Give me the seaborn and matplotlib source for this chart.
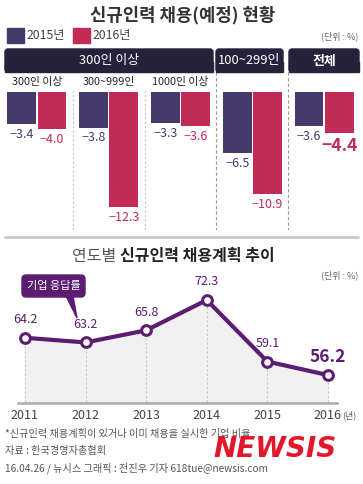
import matplotlib
matplotlib.use('Agg')
import matplotlib.pyplot as plt
from matplotlib.patches import Rectangle, FancyBboxPatch, Polygon
import pandas as pd
import seaborn as sns

# data
groups = ['300인 이상', '300~999인', '1000인 이상', '100~299인', '전체']
hire_2015 = [-3.4, -3.8, -3.3, -6.5, -3.6]
hire_2016 = [-4.0, -12.3, -3.6, -10.9, -4.4]
header_labels = ['300인 이상', '100~299인', '전체']
years = [2011, 2012, 2013, 2014, 2015, 2016]
plan_rate = [64.2, 63.2, 65.8, 72.3, 59.1, 56.2]

PURPLE = '#463a6c'
CRIMSON = '#c22b56'
NAVY = '#27223b'
LINE = '#5c1d70'

sns.set_style('white')
plt.rcParams['font.family'] = ['Noto Sans CJK KR', 'DejaVu Sans']

W, H = 363, 484
fig = plt.figure(figsize=(W / 100, H / 100), dpi=100)


def box(l, t, r, b):
    return [l / W, 1 - b / H, (r - l) / W, (b - t) / H]


# ---- bar chart ----
ax = fig.add_axes(box(1, 72, 360, 230))
df = pd.DataFrame({'group': groups * 2,
                   'year': ['2015년'] * 5 + ['2016년'] * 5,
                   'value': hire_2015 + hire_2016})
sns.barplot(data=df, x='group', y='value', hue='year', order=groups,
            hue_order=['2015년', '2016년'],
            palette={'2015년': PURPLE, '2016년': CRIMSON},
            width=0.84, gap=0.05, saturation=1, linewidth=0,
            legend=False, ax=ax)
ax.set_xlim(-0.5, 4.5)
ax.set_ylim(-14.76, 2.14)
ax.axis('off')

for cont, col in zip(ax.containers, [PURPLE, CRIMSON]):
    for bar in cont:
        v = bar.get_y() + bar.get_height()
        big = abs(v + 4.4) < 1e-6 and col == CRIMSON
        ax.annotate(f'{v:.1f}'.replace('-', '\u2212'),
                    (bar.get_x() + bar.get_width() / 2, v),
                    xytext=(0, -9.5 if big else -7.5), textcoords='offset points',
                    ha='center', va='center', color=col,
                    fontsize=12.5 if big else 9,
                    fontweight='bold' if big else 'normal')

for xs in [0.5, 1.5]:
    ax.plot([xs, xs], [0.2, -14.76], color='#c4c4c4', lw=0.8, ls=(0, (2, 2)))
for xs in [2.5, 3.5]:
    ax.plot([xs, xs], [2.14, -14.76], color='#9a9a9a', lw=0.8, ls=(0, (3, 2)))
for i, g in enumerate(groups[:3]):
    ax.text(i, 1.1, g, ha='center', va='center', fontsize=7.8, color='#222')

# ---- line chart ----
ax2 = fig.add_axes(box(18, 270, 337, 403))
ax2.fill_between(years, plan_rate, 40, color='#f1f1f1', zorder=0)
ax2.vlines(years, 40, plan_rate, colors='#c6c6c6', linestyles=(0, (2, 2)), lw=0.8, zorder=1)
sns.lineplot(x=years, y=plan_rate, color=LINE, lw=3, marker='o', markersize=7,
             markerfacecolor='white', markeredgecolor=LINE, markeredgewidth=2.2,
             ax=ax2, zorder=3)
ax2.set_xlim(2010.885, 2016.15)
ax2.set_ylim(50.2, 78.75)
for s in ['top', 'right', 'left']:
    ax2.spines[s].set_visible(False)
ax2.spines['bottom'].set_color('#aaaaaa')
ax2.spines['bottom'].set_linewidth(1.8)
ax2.set_yticks([])
ax2.set_xticks(years, labels=[str(y) for y in years])
ax2.tick_params(axis='x', length=0, pad=4, labelsize=9, labelcolor='#444')
ax2.set_xlabel('')
ax2.set_ylabel('')
tl = ax2.get_xticklabels()[-1]
ax2.annotate('(년)', xy=(1, 0.45), xycoords=tl, ha='left', va='center',
             fontsize=6.5, color='#555')
for x, v in zip(years, plan_rate):
    last = x == years[-1]
    ax2.annotate(f'{v:.1f}', (x, v), xytext=(0, 13), textcoords='offset points',
                 ha='center', va='center', color=LINE,
                 fontsize=12.5 if last else 9,
                 fontweight='bold' if last else 'normal')

# ---- decorations in pixel coords ----
ov = fig.add_axes([0, 0, 1, 1], zorder=10)
ov.set_xlim(0, W)
ov.set_ylim(H, 0)
ov.axis('off')

ov.text(183, 15, '신규인력 채용(예정) 현황', ha='center', va='center',
        fontsize=12.8, fontweight='bold', color='#333')
ov.add_patch(Rectangle((7, 28), 17, 15, color=PURPLE))
ov.add_patch(Rectangle((73, 28), 17, 15, color=CRIMSON))
ov.text(27, 36, '2015년', va='center', fontsize=8.8, color='#444')
ov.text(93, 36, '2016년', va='center', fontsize=8.8, color='#444')
ov.text(358, 36, '(단위 : %)', ha='right', va='center', fontsize=6.5, color='#666')

for (l, r), lab in zip([(5, 213), (216, 283), (289, 359)], header_labels):
    ov.add_patch(FancyBboxPatch((l, 49), r - l, 23, boxstyle='round,pad=0,rounding_size=3',
                                color=NAVY))
    ov.add_patch(Rectangle((l, 62), r - l, 10, color=NAVY))
    ov.text((l + r) / 2, 60.5, lab, ha='center', va='center', fontsize=9.3,
            color='white', fontweight='bold' if lab == '전체' else 'normal')

ov.plot([5, 358], [237, 237], color='#c8c8c8', lw=2)

t1 = ov.text(72, 256, '연도별 ', va='center', fontsize=11.5, color='#555')
ov.annotate('신규인력 채용계획 추이', xy=(1, 0.5), xycoords=t1, va='center',
            fontsize=11.5, fontweight='bold', color='#222')
ov.text(358, 275, '(단위 : %)', ha='right', va='center', fontsize=6.5, color='#666')

ov.add_patch(Polygon([(66, 296), (73, 296), (77, 318)], closed=True, color=LINE))
ov.add_patch(FancyBboxPatch((22, 275), 63, 22, boxstyle='round,pad=0,rounding_size=4',
                            color=LINE))
ov.text(53.5, 286, '기업 응답률', ha='center', va='center', fontsize=8, color='white')

ov.text(5, 434, '*신규인력 채용계획이 있거나 이미 채용을 실시한 기업 비율',
        va='center', fontsize=7.3, color='#555')
ov.text(5, 451, '자료 : 한국경영자총협회', va='center', fontsize=7.3, color='#555')
ov.text(5, 468, '16.04.26 / 뉴시스 그래픽 : 전진우 기자 618tue@newsis.com',
        va='center', fontsize=7.3, color='#555')
ov.text(275, 449, 'NEWSIS', ha='center', va='center', fontsize=20,
        family='DejaVu Sans', fontweight='heavy', style='italic', color='#e3172b',
        zorder=5)

fig.savefig('out.png', dpi=100)
